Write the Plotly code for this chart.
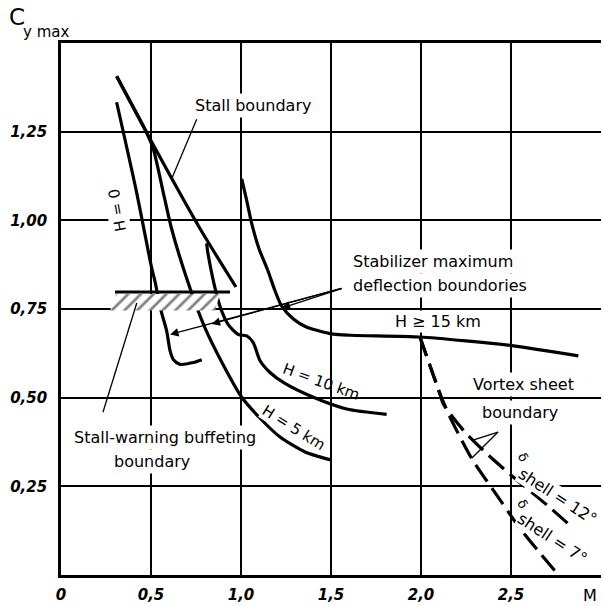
import plotly.graph_objects as go

# ---- axis ticks -------------------------------------------------------
x_ticks = [0, 0.5, 1.0, 1.5, 2.0, 2.5]
x_labels = ["0", "0,5", "1,0", "1,5", "2,0", "2,5"]
y_ticks = [0.25, 0.50, 0.75, 1.00, 1.25]
y_labels = ["0,25", "0,50", "0,75", "1,00", "1,25"]
X_MAX = 3.0
Y_MAX = 1.5

# ---- boundary curves: Mach number M vs Cy max ------------------------
stall_M = [0.309, 0.476, 0.772, 0.972]
stall_C = [1.406, 1.247, 0.977, 0.812]

h0_M = [0.309, 0.42, 0.504, 0.522, 0.555, 0.587, 0.606, 0.625, 0.661, 0.735, 0.782]
h0_C = [1.333, 1.079, 0.865, 0.828, 0.747, 0.688, 0.632, 0.607, 0.594, 0.599, 0.607]

h5_M = [0.309, 0.476, 0.513, 0.568, 0.614, 0.698, 0.80, 0.939, 1.004, 1.106, 1.217, 1.356, 1.504]
h5_C = [1.406, 1.247, 1.201, 1.079, 0.977, 0.837, 0.697, 0.557, 0.501, 0.442, 0.389, 0.347, 0.324]

h10_M = [0.809, 0.818, 0.865, 0.893, 0.929, 0.985, 1.032, 1.068, 1.106, 1.161, 1.244, 1.402, 1.587, 1.809]
h10_C = [0.935, 0.902, 0.790, 0.744, 0.706, 0.678, 0.674, 0.655, 0.604, 0.571, 0.540, 0.501, 0.468, 0.453]

h15_M = [1.004, 1.03, 1.06, 1.10, 1.148, 1.19, 1.226, 1.291, 1.36, 1.421, 1.513, 1.606, 1.994, 2.25, 2.513, 2.874]
h15_C = [1.117, 1.06, 0.99, 0.92, 0.86, 0.80, 0.758, 0.722, 0.70, 0.690, 0.679, 0.676, 0.671, 0.660, 0.646, 0.618]

# vortex sheet boundaries (dashed)
vortex12_M = [1.994, 2.05, 2.106, 2.124, 2.244, 2.374, 2.522, 2.698, 2.846]
vortex12_C = [0.671, 0.59, 0.510, 0.482, 0.403, 0.338, 0.272, 0.198, 0.132]
vortex7_M = [1.994, 2.05, 2.106, 2.161, 2.282, 2.439, 2.541, 2.661, 2.754]
vortex7_C = [0.671, 0.59, 0.510, 0.445, 0.328, 0.212, 0.137, 0.062, 0.006]

# stall-warning buffeting band
buffet_M = [0.272, 0.856, 0.883, 0.306]
buffet_C = [0.746, 0.746, 0.792, 0.792]
buffet_top_M = [0.30, 0.939]
buffet_top_C = [0.798, 0.798]

# thin leader lines from labels
leader_stall_M = [0.754, 0.615]
leader_stall_C = [1.285, 1.117]
leader_buffet_M = [0.233, 0.421]
leader_buffet_C = [0.459, 0.767]
leader_vortex_a_M = [2.428, 2.289]
leader_vortex_a_C = [0.403, 0.380]
leader_vortex_b_M = [2.428, 2.283]
leader_vortex_b_C = [0.403, 0.330]

# stabilizer arrows: tail and tips
stab_tail = (1.567, 0.809)
stab_tips = [(1.226, 0.753), (0.837, 0.708), (0.606, 0.678)]

fig = go.Figure()

solid = dict(color="black", width=3.2)
for mx, cy in [(stall_M, stall_C), (h0_M, h0_C), (h5_M, h5_C),
               (h10_M, h10_C), (h15_M, h15_C)]:
    fig.add_trace(go.Scatter(x=mx, y=cy, mode="lines",
                             line=dict(shape="spline", smoothing=0.7, **solid),
                             hoverinfo="skip"))

for mx, cy in [(vortex12_M, vortex12_C), (vortex7_M, vortex7_C)]:
    fig.add_trace(go.Scatter(x=mx, y=cy, mode="lines",
                             line=dict(color="black", width=3.2, dash="20px,8px",
                                       shape="spline", smoothing=0.6),
                             hoverinfo="skip"))

# hatched band
fig.add_trace(go.Scatter(x=buffet_M + buffet_M[:1], y=buffet_C + buffet_C[:1],
                         mode="lines", fill="toself", line=dict(width=0, color="black"),
                         fillcolor="rgba(0,0,0,0)",
                         fillpattern=dict(shape="/", fgcolor="black", bgcolor="white",
                                          size=9, solidity=0.3),
                         hoverinfo="skip"))
fig.add_trace(go.Scatter(x=buffet_top_M, y=buffet_top_C, mode="lines",
                         line=dict(color="black", width=3.2), hoverinfo="skip"))

thin = dict(color="black", width=1.3)
for mx, cy in [(leader_stall_M, leader_stall_C), (leader_buffet_M, leader_buffet_C),
               (leader_vortex_a_M, leader_vortex_a_C), (leader_vortex_b_M, leader_vortex_b_C)]:
    fig.add_trace(go.Scatter(x=mx, y=cy, mode="lines", line=thin, hoverinfo="skip"))

annotations = []
for tx, ty in stab_tips:
    annotations.append(dict(x=tx, y=ty, ax=stab_tail[0], ay=stab_tail[1],
                            xref="x", yref="y", axref="x", ayref="y",
                            text="", showarrow=True, arrowhead=2, arrowsize=1.3,
                            arrowwidth=1.3, arrowcolor="black"))

LBL = dict(family="DejaVu Sans", size=16, color="black")


def label(text, x, y, angle=0, size=16, anchor="center", bg="white", pad=2, paper=False):
    ann = dict(text=text, showarrow=False, textangle=angle, xanchor=anchor,
               yanchor="middle", font=dict(LBL, size=size), bgcolor=bg, borderpad=pad)
    if paper:
        # outside the axis ranges: place in paper fractions
        ann.update(x=x / X_MAX, y=y / Y_MAX, xref="paper", yref="paper")
    else:
        ann.update(x=x, y=y, xref="x", yref="y")
    annotations.append(ann)


label("Stall boundary", 1.064, 1.325)
label("H = 0", 0.311, 1.030, angle=-100, size=15, pad=1)
label("Stabilizer maximum", 1.606, 0.883, anchor="left")
label("deflection boundories", 1.606, 0.816, anchor="left")
label("H \u2265 15 km", 2.092, 0.716, pad=1)
label("H = 10 km", 1.448, 0.545, angle=20, size=15, bg=None, pad=0)
label("H = 5 km", 1.294, 0.414, angle=32, size=15, pad=0)
label("Vortex sheet", 2.572, 0.536)
label("boundary", 2.55, 0.459)
label("Stall-warning buffeting", 0.578, 0.389)
label("boundary", 0.504, 0.319)
label("\u03b4", 2.564, 0.333, angle=60, size=13, bg=None, pad=0)
label("shell = 12\u00b0", 2.761, 0.221, angle=33, pad=0)
label("\u03b4", 2.564, 0.202, angle=60, size=13, bg=None, pad=0)
label("shell = 7\u00b0", 2.731, 0.104, angle=33, pad=0)
label("M", 2.939, -0.058, size=16, bg=None, pad=0, paper=True)
label("C", -0.242, 1.574, size=23, bg=None, pad=0, paper=True)
label("y max", -0.218, 1.532, size=15, anchor="left", bg=None, pad=0, paper=True)

tick_font = dict(family="DejaVu Sans", size=15, color="black",
                 weight="bold", style="italic")

fig.update_layout(
    width=603, height=606,
    margin=dict(l=61, r=2, t=43, b=27),
    paper_bgcolor="white", plot_bgcolor="white",
    showlegend=False,
    annotations=annotations,
    xaxis=dict(range=[0, X_MAX], tickvals=x_ticks,
               ticktext=["<i>%s</i>" % s for s in x_labels],
               tickfont=tick_font,
               showgrid=True, gridcolor="black", gridwidth=1.6,
               showline=True, linecolor="black", linewidth=2.6, mirror=True,
               zeroline=False, ticks="", ticklabelstandoff=4),
    yaxis=dict(range=[0, Y_MAX], tickvals=y_ticks,
               ticktext=["<i>%s</i>" % s for s in y_labels],
               tickfont=tick_font,
               showgrid=True, gridcolor="black", gridwidth=1.6,
               showline=True, linecolor="black", linewidth=2.6, mirror=False,
               zeroline=False, ticks="", ticklabelstandoff=8),
)

fig.write_html("out.html")
